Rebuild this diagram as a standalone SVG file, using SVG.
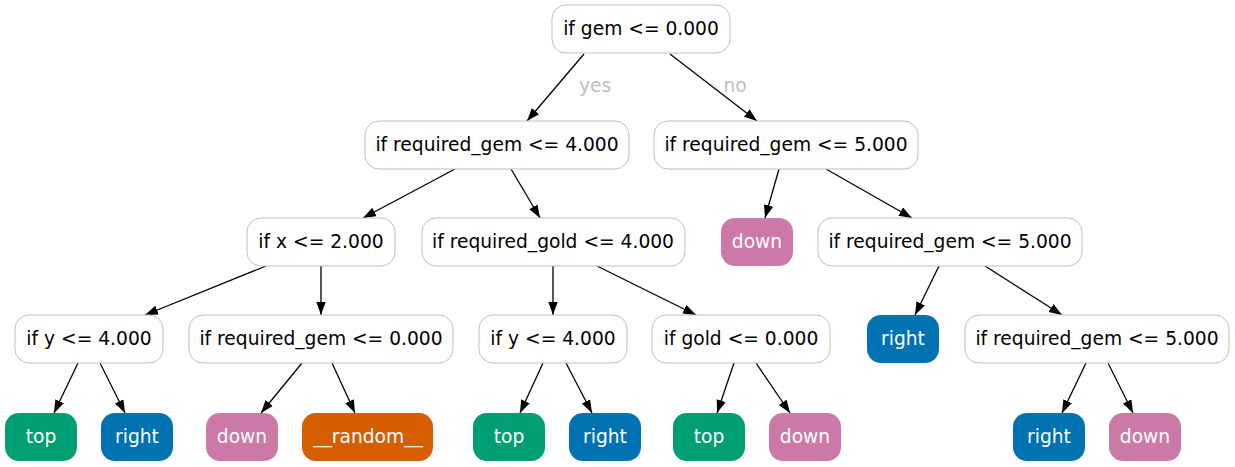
<svg xmlns="http://www.w3.org/2000/svg" width="1235" height="467" viewBox="0 0 1235 467">
<style>
text{font-family:"DejaVu Sans",sans-serif;font-size:18.67px;text-anchor:middle}
.d rect{fill:#fff;stroke:#bfbfbf;stroke-width:1}
.d text{fill:#000}
.l text{fill:#fff}
.top rect{fill:#009e73}
.right rect{fill:#0072b2}
.down rect{fill:#cc79a7}
.rand rect{fill:#d55e00}
#edges line{stroke:#000;stroke-width:1.3;marker-end:url(#ah)}
.el{fill:#bfbfbf}
</style>
<defs>
<marker id="ah" markerUnits="userSpaceOnUse" markerWidth="13" markerHeight="10" refX="13" refY="4.7" orient="auto"><path d="M0,0 L13,4.7 L0,9.4 z" fill="#000"/></marker>
</defs>
<rect width="1235" height="467" fill="#fff"/>
<g id="edges">
<line x1="584" y1="54" x2="527" y2="121"/>
<line x1="670" y1="54" x2="757" y2="121"/>
<line x1="455" y1="169" x2="363" y2="218"/>
<line x1="511" y1="169" x2="540" y2="218"/>
<line x1="779" y1="169" x2="765" y2="218"/>
<line x1="826" y1="169" x2="912" y2="218"/>
<line x1="266" y1="266" x2="145" y2="315"/>
<line x1="321" y1="266" x2="321" y2="315"/>
<line x1="553" y1="266" x2="553" y2="315"/>
<line x1="597" y1="266" x2="696" y2="315"/>
<line x1="939" y1="266" x2="915" y2="315"/>
<line x1="985" y1="266" x2="1062" y2="315"/>
<line x1="78" y1="363" x2="54" y2="413"/>
<line x1="100" y1="363" x2="125" y2="413"/>
<line x1="302" y1="363" x2="261" y2="413"/>
<line x1="332" y1="363" x2="355" y2="413"/>
<line x1="543" y1="363" x2="520" y2="413"/>
<line x1="566" y1="363" x2="592" y2="413"/>
<line x1="734" y1="363" x2="717" y2="413"/>
<line x1="756" y1="363" x2="790" y2="413"/>
<line x1="1086" y1="363" x2="1062" y2="413"/>
<line x1="1108" y1="363" x2="1133" y2="413"/>
<text class="el" x="595" y="92">yes</text>
<text class="el" x="735" y="92">no</text>
</g>
<g id="n0" class="d"><rect x="552" y="5" width="178" height="48" rx="14"/><text x="641" y="35">if gem &lt;= 0.000</text></g>
<g id="n1" class="d"><rect x="365" y="121" width="264" height="48" rx="14"/><text x="497" y="151">if required_gem &lt;= 4.000</text></g>
<g id="n2" class="d"><rect x="654" y="121" width="264" height="48" rx="14"/><text x="786" y="151">if required_gem &lt;= 5.000</text></g>
<g id="n3" class="d"><rect x="247" y="218" width="148" height="48" rx="14"/><text x="321" y="248">if x &lt;= 2.000</text></g>
<g id="n4" class="d"><rect x="422" y="218" width="263" height="48" rx="14"/><text x="553" y="248">if required_gold &lt;= 4.000</text></g>
<g id="n5" class="l down"><rect x="721" y="218" width="72" height="48" rx="14"/><text x="757" y="248">down</text></g>
<g id="n6" class="d"><rect x="818" y="218" width="264" height="48" rx="14"/><text x="950" y="248">if required_gem &lt;= 5.000</text></g>
<g id="n7" class="d"><rect x="15" y="315" width="148" height="48" rx="14"/><text x="89" y="345">if y &lt;= 4.000</text></g>
<g id="n8" class="d"><rect x="189" y="315" width="264" height="48" rx="14"/><text x="321" y="345">if required_gem &lt;= 0.000</text></g>
<g id="n9" class="d"><rect x="479" y="315" width="148" height="48" rx="14"/><text x="553" y="345">if y &lt;= 4.000</text></g>
<g id="n10" class="d"><rect x="652" y="315" width="178" height="48" rx="14"/><text x="741" y="345">if gold &lt;= 0.000</text></g>
<g id="n11" class="l right"><rect x="867" y="315" width="72" height="48" rx="14"/><text x="903" y="345">right</text></g>
<g id="n12" class="d"><rect x="965" y="315" width="264" height="48" rx="14"/><text x="1097" y="345">if required_gem &lt;= 5.000</text></g>
<g id="n13" class="l top"><rect x="5" y="413" width="72" height="48" rx="14"/><text x="41" y="443">top</text></g>
<g id="n14" class="l right"><rect x="101" y="413" width="72" height="48" rx="14"/><text x="137" y="443">right</text></g>
<g id="n15" class="l down"><rect x="206" y="413" width="72" height="48" rx="14"/><text x="242" y="443">down</text></g>
<g id="n16" class="l rand"><rect x="302" y="413" width="131" height="48" rx="14"/><text x="368" y="443">__random__</text></g>
<g id="n17" class="l top"><rect x="473" y="413" width="72" height="48" rx="14"/><text x="509" y="443">top</text></g>
<g id="n18" class="l right"><rect x="569" y="413" width="72" height="48" rx="14"/><text x="605" y="443">right</text></g>
<g id="n19" class="l top"><rect x="673" y="413" width="72" height="48" rx="14"/><text x="709" y="443">top</text></g>
<g id="n20" class="l down"><rect x="769" y="413" width="72" height="48" rx="14"/><text x="805" y="443">down</text></g>
<g id="n21" class="l right"><rect x="1013" y="413" width="72" height="48" rx="14"/><text x="1049" y="443">right</text></g>
<g id="n22" class="l down"><rect x="1109" y="413" width="72" height="48" rx="14"/><text x="1145" y="443">down</text></g>
</svg>
